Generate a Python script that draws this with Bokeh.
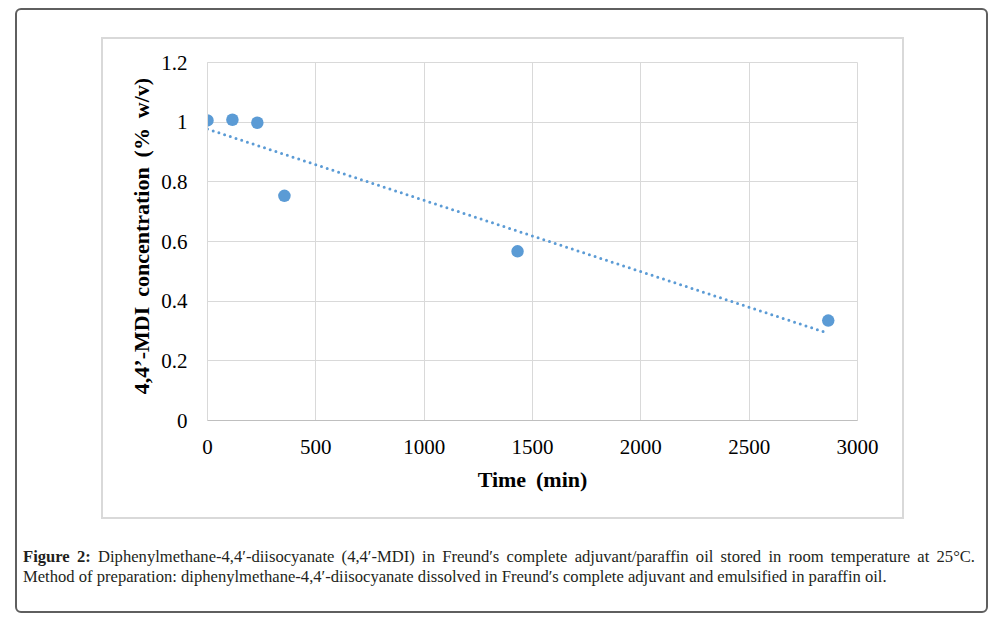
import numpy as np
from bokeh.plotting import figure
from bokeh.models import Range1d, FixedTicker, NumeralTickFormatter, Div
from bokeh.layouts import column
from bokeh.embed import file_html
from bokeh.resources import INLINE

# ---- data ----
time_min = [0, 115, 230, 355, 1431, 2865]
mdi_conc = [1.006, 1.008, 0.998, 0.753, 0.567, 0.335]
x_ticks = [0, 500, 1000, 1500, 2000, 2500, 3000]
y_ticks = [0, 0.2, 0.4, 0.6, 0.8, 1.0, 1.2]

SP = " \u2009"
x_label = "Time" + SP + "(min)"
y_label = "\u00a0\u00a0" + SP.join(["4,4’-MDI", "concentration", "(%", "w/v)"])
caption_line1 = ("<b>Figure 2:</b> Diphenylmethane-4,4′-diisocyanate (4,4′-MDI) in Freund′s "
                 "complete adjuvant/paraffin oil stored in room temperature at 25°C.")
caption_line2 = ("Method of preparation: diphenylmethane-4,4′-diisocyanate dissolved in "
                 "Freund′s complete adjuvant and emulsified in paraffin oil.")

BLUE = "#5b9bd5"
GRID = "#d9d9d9"
SERIF = "Liberation Serif"

p = figure(width=799, height=478, x_range=Range1d(0, 3000), y_range=Range1d(0, 1.2),
           output_backend="svg", toolbar_location=None,
           min_border_left=104, min_border_right=45,
           min_border_top=23, min_border_bottom=97,
           margin=(29, 0, 0, 86),
           styles={"outline": "2px solid #d9d9d9", "outline-offset": "0px"})
p.background_fill_color = "white"
p.border_fill_color = "white"
p.outline_line_color = GRID

p.xaxis.ticker = FixedTicker(ticks=x_ticks)
p.yaxis.ticker = FixedTicker(ticks=y_ticks)
p.yaxis.formatter = NumeralTickFormatter(format="0.[0]")
p.grid.grid_line_color = GRID
p.grid.grid_line_width = 1

for ax in (p.xaxis, p.yaxis):
    ax.major_tick_line_color = None
    ax.minor_tick_line_color = None
    ax.major_tick_out = 0
    ax.major_tick_in = 0
    ax.major_label_text_font = SERIF
    ax.major_label_text_font_size = "21px"
    ax.major_label_text_color = "#000000"
    ax.axis_label_text_font = SERIF
    ax.axis_label_text_font_style = "bold"
    ax.axis_label_text_font_size = "22px"
    ax.axis_label_text_color = "#000000"
p.xaxis.axis_line_color = "#bfbfbf"
p.yaxis.axis_line_color = GRID
p.xaxis.axis_label = x_label
p.yaxis.axis_label = y_label
p.yaxis.major_label_standoff = 20
p.xaxis.major_label_standoff = 19
p.xaxis.axis_label_standoff = 10
p.yaxis.axis_label_standoff = 4

# linear trend line fitted to the data
coef = np.polyfit(time_min, mdi_conc, 1)
tx = [min(time_min), max(time_min)]
ty = list(np.polyval(coef, tx))
p.line(tx, ty, line_color=BLUE, line_width=3, line_dash="0 6", line_cap="round")
p.scatter(time_min, mdi_conc, size=12.5, fill_color=BLUE, line_color=None)

cap_html = (
    "<div style=\"font-family:'Liberation Serif',serif; font-size:16.6px; line-height:19.5px; "
    "color:#231f20; white-space:normal; width:952px;\">"
    "<div style='width:952px; text-align:justify; text-align-last:justify;'>" + caption_line1 + "</div>"
    "<div style='width:952px;'>" + caption_line2 + "</div></div>"
)
cap = Div(text=cap_html, width=952, height=45, margin=(30, 0, 0, 6))

layout = column(p, cap, width=973, height=605, margin=(8, 0, 0, 15),
                styles={"border": "2px solid #5f5f5f", "border-radius": "6px",
                        "background-color": "white"})

open("out.html", "w").write(file_html(layout, INLINE))
